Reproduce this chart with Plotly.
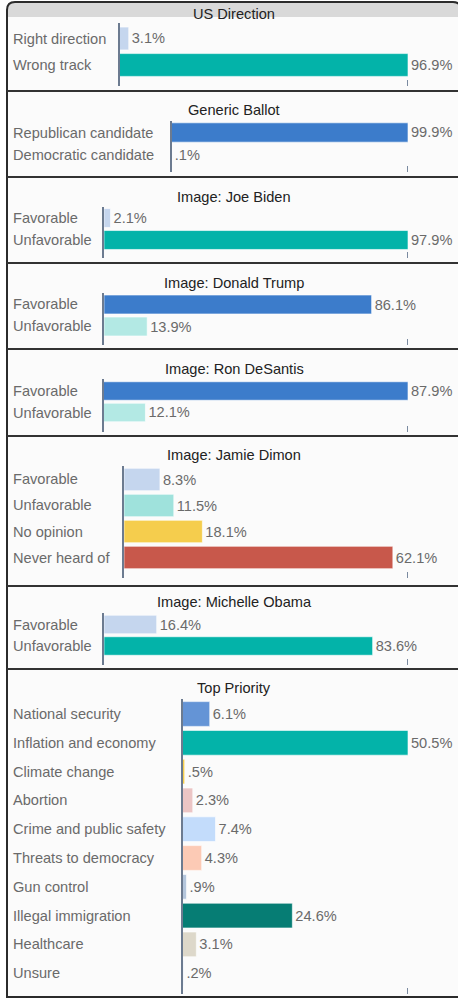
import plotly.graph_objects as go

# ---------------- data ----------------
titles = ["US Direction", "Generic Ballot", "Image: Joe Biden", "Image: Donald Trump",
          "Image: Ron DeSantis", "Image: Jamie Dimon", "Image: Michelle Obama", "Top Priority"]

direction_labels = ["Right direction", "Wrong track"]
direction_values = [3.1, 96.9]

ballot_labels = ["Republican candidate", "Democratic candidate"]
ballot_values = [99.9, 0.1]

image_labels = ["Favorable", "Unfavorable"]
biden_values = [2.1, 97.9]
trump_values = [86.1, 13.9]
desantis_values = [87.9, 12.1]
obama_values = [16.4, 83.6]

dimon_labels = ["Favorable", "Unfavorable", "No opinion", "Never heard of"]
dimon_values = [8.3, 11.5, 18.1, 62.1]

priority_labels = ["National security", "Inflation and economy", "Climate change", "Abortion",
                   "Crime and public safety", "Threats to democracy", "Gun control",
                   "Illegal immigration", "Healthcare", "Unsure"]
priority_values = [6.1, 50.5, 0.5, 2.3, 7.4, 4.3, 0.9, 24.6, 3.1, 0.2]

# ---------------- style ----------------
LIGHT = "#c5d6ee"
TEAL = "#03b3a9"
BLUE = "#3c7ccb"
MINT = "#b3e9e4"
colors = [
    [LIGHT, TEAL],
    [BLUE, "#b9cbe6"],
    [LIGHT, TEAL],
    [BLUE, MINT],
    [BLUE, MINT],
    [LIGHT, "#9fe2dc", "#f5cd4d", "#c8584b"],
    [LIGHT, TEAL],
    ["#6494d6", TEAL, "#f5cd4d", "#ebc5c5", "#c3dcfb", "#fccab5", "#b4c6dc", "#067d74", "#ddd8ca", LIGHT],
]

panels = [
    (direction_labels, direction_values),
    (ballot_labels, ballot_values),
    (image_labels, biden_values),
    (image_labels, trump_values),
    (image_labels, desantis_values),
    (dimon_labels, dimon_values),
    (image_labels, obama_values),
    (priority_labels, priority_values),
]

# pixel geometry per panel: axis x, top, bottom, first bar centre, spacing, title y, x max
geom = [
    (119.5, 23, 86, 38.5, 26.5, 14, 96.9),
    (171.5, 121, 172, 132.5, 22.5, 110, 99.9),
    (104, 207, 258, 218, 22, 197, 97.9),
    (104, 293, 345, 304.5, 22, 283, 97.8),
    (103.5, 379, 432, 391, 21.5, 369, 87.9),
    (124, 466, 578, 479.5, 26, 455, 65.6),
    (104, 613, 665, 624.5, 21.5, 602, 94.6),
    (182.5, 699, 994, 714, 28.8, 688, 50.5),
]

W, H = 458, 1000
FONT = "Liberation Sans, Arial, sans-serif"
FS = 14.6
LABEL_COLOR = "#6a6a6a"
BAR_END = 408


def px(x):
    return x / W


def py(y):
    return 1 - y / H


def fmt(v):
    return f"{v:.1f}%".lstrip("0")


fig = go.Figure()
annotations = []
shapes = []

for i, ((labels, values), cols, g) in enumerate(zip(panels, colors, geom), start=1):
    ax_x, top, bottom, c0, sp, title_y, xmax = g
    sfx = "" if i == 1 else str(i)
    fig.add_trace(go.Bar(
        x=values, y=labels, orientation="h",
        marker=dict(color=cols, line=dict(width=1, color="rgba(255,255,255,0.6)")),
        width=0.86,
        text=[fmt(v) for v in values], textposition="outside",
        textfont=dict(size=FS, color=LABEL_COLOR, family=FONT),
        constraintext="none", cliponaxis=False, showlegend=False,
        xaxis="x" + sfx, yaxis="y" + sfx, hoverinfo="skip",
    ))
    fig.update_layout(**{
        "xaxis" + sfx: dict(domain=[px(ax_x), px(BAR_END)], range=[0, xmax], anchor="y" + sfx,
                            showgrid=False, zeroline=False, showticklabels=False,
                            ticks="", showline=False, fixedrange=True),
        "yaxis" + sfx: dict(domain=[py(bottom), py(top)], type="category", anchor="x" + sfx,
                            categoryorder="array", categoryarray=labels,
                            range=[(bottom - c0) / sp, -(c0 - top) / sp],
                            showgrid=False, zeroline=False, showticklabels=False,
                            showline=True, linecolor="#6c7b90", linewidth=2, ticks="",
                            fixedrange=True),
    })
    # end-of-axis tick mark
    shapes.append(dict(type="line", xref="x" + sfx, yref="paper", x0=xmax, x1=xmax,
                       y0=py(bottom), y1=py(bottom - 6), line=dict(width=2, color="#7a8aa0")))
    for lab in labels:
        annotations.append(dict(xref="paper", yref="y" + sfx, x=px(11), y=lab, text=lab,
                                xanchor="left", yanchor="middle", showarrow=False,
                                font=dict(size=FS, color=LABEL_COLOR, family=FONT)))
    annotations.append(dict(xref="paper", yref="paper", x=px(234), y=py(title_y), text=titles[i - 1],
                            xanchor="center", yanchor="middle", showarrow=False,
                            font=dict(size=FS, color="#222222", family=FONT)))

# frame, header and separators
frame = (f"M {px(7)},{py(997)} L {px(7)},{py(10)} Q {px(7)},{py(2)} {px(15)},{py(2)} "
         f"L {px(453)},{py(2)} Q {px(461)},{py(2)} {px(461)},{py(10)} L {px(461)},{py(997)} Z")
header = (f"M {px(7)},{py(17)} L {px(7)},{py(10)} Q {px(7)},{py(2)} {px(15)},{py(2)} "
          f"L {px(453)},{py(2)} Q {px(461)},{py(2)} {px(461)},{py(10)} L {px(461)},{py(17)} Z")
shapes = [
    dict(type="path", xref="paper", yref="paper", path=frame,
         fillcolor="#fbfbfb", line=dict(width=0), layer="below"),
    dict(type="path", xref="paper", yref="paper", path=header,
         fillcolor="#d9d9d9", line=dict(width=0), layer="below"),
    dict(type="path", xref="paper", yref="paper", path=frame,
         line=dict(width=2, color="#2b2b2b"), layer="above"),
] + shapes
for sy in [91, 177, 263, 349, 436, 586, 669]:
    shapes.append(dict(type="line", xref="paper", yref="paper", x0=px(7), x1=px(461),
                       y0=py(sy), y1=py(sy), line=dict(width=2, color="#333333")))

fig.update_layout(
    width=W, height=H,
    margin=dict(l=0, r=0, t=0, b=0),
    paper_bgcolor="white", plot_bgcolor="rgba(0,0,0,0)",
    bargap=0.14,
    annotations=annotations, shapes=shapes,
    font=dict(family=FONT),
)

fig.write_html("out.html", config={"displayModeBar": False},
               post_script="document.body.style.margin='0px';document.body.style.overflow='hidden';")
